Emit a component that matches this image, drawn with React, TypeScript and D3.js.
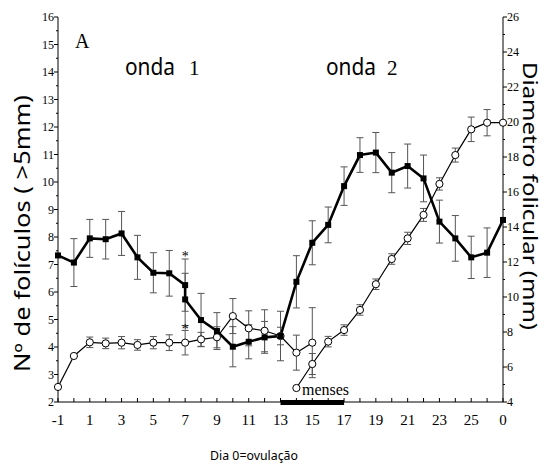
import React from 'react';
import * as d3 from 'd3';

// Nº de folículos (>5mm), left axis — day 7 was recorded twice
const blackDays = [-1, 0, 1, 2, 3, 4, 5, 6, 7, 7, 8, 9, 10, 11, 12, 13, 14, 15, 16, 17, 18, 19, 20, 21, 22, 23, 24, 25, 26, 27];
const blackMean = [7.33, 7.07, 7.95, 7.92, 8.13, 7.26, 6.7, 6.68, 6.25, 5.73, 4.98, 4.58, 4.01, 4.19, 4.35, 4.4, 6.37, 7.79, 8.44, 9.85, 10.98, 11.07, 10.34, 10.58, 10.13, 8.56, 7.95, 7.26, 7.43, 8.62];
const blackErr = [0, 0.87, 0.69, 0.72, 0.8, 0.8, 0.73, 0.83, 0.95, 0.95, 0.97, 0.67, 0.73, 0.62, 0.58, 0.9, 0.95, 0.8, 0.65, 0.7, 0.63, 0.73, 0.73, 0.8, 0.85, 0.78, 0.83, 0.77, 0.9, 0];

// Diametro folicular (mm), right axis — follicle of wave 1
const open1Days = [-1, 0, 1, 2, 3, 4, 5, 6, 7, 8, 9, 10, 11, 12, 13, 14, 15];
const open1Mean = [4.86, 6.63, 7.41, 7.35, 7.39, 7.26, 7.39, 7.39, 7.39, 7.58, 7.7, 8.91, 8.21, 8.07, 7.77, 6.82, 7.39];
const open1Err = [0, 0, 0.3, 0.3, 0.35, 0.3, 0.35, 0.45, 0.7, 0.4, 0.6, 1.0, 1.0, 1.2, 0.5, 1.0, 2.0];

// wave 2 follicle, starting at menses
const open2Days = [14, 15, 16, 17, 18, 19, 20, 21, 22, 23, 24, 25, 26, 27];
const open2Mean = [4.8, 6.17, 7.45, 8.11, 9.26, 10.73, 12.17, 13.35, 14.69, 16.46, 18.11, 19.58, 19.96, 19.96];
const open2Err = [0, 0.6, 0.3, 0.3, 0.3, 0.3, 0.3, 0.35, 0.37, 0.35, 0.4, 0.7, 0.75, 0];

const xTicks = [-1, 1, 3, 5, 7, 9, 11, 13, 15, 17, 19, 21, 23, 25, 27];
const xTickLabels = ['-1', '1', '3', '5', '7', '9', '11', '13', '15', '17', '19', '21', '23', '25', '0'];
const leftTicks = d3.range(2, 17);
const rightTicks = d3.range(4, 27, 2);
const mensesRange = [13, 17];

const W = 544, H = 467;
const serif = '"Liberation Serif", "Times New Roman", serif';
const sans = '"Noto Sans", "Open Sans", sans-serif';

export default function App() {
  const x = d3.scaleLinear().domain([-1, 27]).range([58, 503]);
  const yL = d3.scaleLinear().domain([2, 16]).range([402, 17]);
  const yR = d3.scaleLinear().domain([4, 26]).range([402, 17]);

  const blackLine = d3.line<number>().x((_, i) => x(blackDays[i])).y(v => yL(v));
  const open1Line = d3.line<number>().x((_, i) => x(open1Days[i])).y(v => yR(v));
  const open2Line = d3.line<number>().x((_, i) => x(open2Days[i])).y(v => yR(v));

  const errBars = (days: number[], mean: number[], err: number[], y: d3.ScaleLinear<number, number>, key: string) =>
    days.map((d, i) => {
      if (!err[i]) return null;
      const cx = x(d), y1 = y(mean[i] + err[i]), y2 = y(mean[i] - err[i]);
      return (
        <g key={key + i} stroke="#555" strokeWidth={1}>
          <line x1={cx} x2={cx} y1={y1} y2={y2} />
          <line x1={cx - 3.5} x2={cx + 3.5} y1={y1} y2={y1} />
          <line x1={cx - 3.5} x2={cx + 3.5} y1={y2} y2={y2} />
        </g>
      );
    });

  return (
    <svg width={W} height={H} style={{ position: 'absolute', left: 0, top: 0, background: '#fff' }}>
      {/* axes */}
      <line x1={58} x2={58} y1={17} y2={402} stroke="#000" />
      <line x1={503} x2={503} y1={17} y2={402} stroke="#000" />
      <line x1={58} x2={503} y1={402} y2={402} stroke="#000" />

      {leftTicks.map(t => (
        <g key={'l' + t}>
          <line x1={54} x2={58} y1={yL(t)} y2={yL(t)} stroke="#000" />
          <text x={54} y={yL(t)} dy="0.35em" textAnchor="end" fontFamily={serif} fontSize={12}>{t}</text>
        </g>
      ))}
      {leftTicks.slice(0, -1).map(t => (
        <line key={'lm' + t} x1={56} x2={58} y1={yL(t + 0.5)} y2={yL(t + 0.5)} stroke="#000" />
      ))}

      {rightTicks.map(t => (
        <g key={'r' + t}>
          <line x1={503} x2={507} y1={yR(t)} y2={yR(t)} stroke="#000" />
          <text x={507} y={yR(t)} dy="0.35em" fontFamily={serif} fontSize={12}>{t}</text>
        </g>
      ))}
      {rightTicks.slice(0, -1).map(t => (
        <line key={'rm' + t} x1={503} x2={505} y1={yR(t + 1)} y2={yR(t + 1)} stroke="#000" />
      ))}

      {d3.range(-1, 28).map(d => (
        <line key={'b' + d} x1={x(d)} x2={x(d)} y1={398} y2={402} stroke="#000" />
      ))}
      {xTicks.map((t, i) => (
        <text key={'bl' + t} x={x(t)} y={425} textAnchor="middle" fontFamily={serif} fontSize={15}>{xTickLabels[i]}</text>
      ))}

      {/* menses bar */}
      <rect x={x(mensesRange[0])} y={400} width={x(mensesRange[1]) - x(mensesRange[0])} height={5} fill="#000" />

      {/* error bars */}
      {errBars(blackDays, blackMean, blackErr, yL, 'be')}
      {errBars(open1Days, open1Mean, open1Err, yR, 'o1e')}
      {errBars(open2Days, open2Mean, open2Err, yR, 'o2e')}

      {/* lines */}
      <path d={open1Line(open1Mean) || ''} fill="none" stroke="#000" strokeWidth={1.2} />
      <path d={open2Line(open2Mean) || ''} fill="none" stroke="#000" strokeWidth={1.2} />
      <path d={blackLine(blackMean) || ''} fill="none" stroke="#000" strokeWidth={2.6} />

      {/* markers */}
      {open1Mean.map((v, i) => (
        <circle key={'o1' + i} cx={x(open1Days[i])} cy={yR(v)} r={3.6} fill="#fff" stroke="#000" />
      ))}
      {open2Mean.map((v, i) => (
        <circle key={'o2' + i} cx={x(open2Days[i])} cy={yR(v)} r={3.6} fill="#fff" stroke="#000" />
      ))}
      {blackMean.map((v, i) => (
        <rect key={'bk' + i} x={x(blackDays[i]) - 3} y={yL(v) - 3} width={6} height={6} fill="#000" />
      ))}

      {/* asterisks at day 7 */}
      <text x={x(7)} y={yL(7.42)} dy="0.55em" textAnchor="middle" fontFamily={serif} fontSize={14}>*</text>
      <text x={x(7)} y={yL(4.76)} dy="0.55em" textAnchor="middle" fontFamily={serif} fontSize={14}>*</text>

      {/* annotations */}
      <text x={75} y={48} fontFamily={serif} fontSize={20}>A</text>
      <text x={125} y={75} fontFamily={sans} fontSize={23} textLength={50} lengthAdjust="spacingAndGlyphs">onda</text>
      <text x={189} y={75} fontFamily={serif} fontSize={21}>1</text>
      <text x={326} y={75} fontFamily={sans} fontSize={23} textLength={50} lengthAdjust="spacingAndGlyphs">onda</text>
      <text x={387} y={75} fontFamily={serif} fontSize={21}>2</text>
      <text x={302} y={395} fontFamily={serif} fontSize={17} textLength={47} lengthAdjust="spacingAndGlyphs">menses</text>

      {/* axis titles */}
      <text transform="translate(30,372) rotate(-90)" fontFamily={sans} fontSize={21} textLength={277} lengthAdjust="spacingAndGlyphs">Nº de folículos ( &gt;5mm)</text>
      <text transform="translate(523,62) rotate(90)" fontFamily={sans} fontSize={20} textLength={268} lengthAdjust="spacingAndGlyphs">Diametro folicular (mm)</text>
      <text x={210} y={460} fontFamily={sans} fontSize={12} textLength={88} lengthAdjust="spacingAndGlyphs">Dia 0=ovulação</text>
    </svg>
  );
}
